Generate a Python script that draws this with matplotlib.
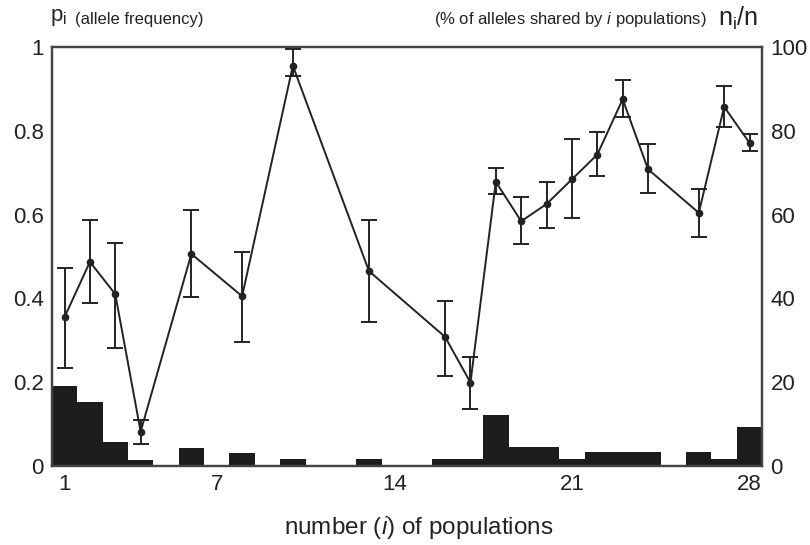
import matplotlib.pyplot as plt
import numpy as np

plt.rcParams['font.family'] = ['Liberation Sans', 'DejaVu Sans']
plt.rcParams['mathtext.fontset'] = 'custom'
plt.rcParams['mathtext.rm'] = 'Liberation Sans'
plt.rcParams['mathtext.it'] = 'Liberation Sans:italic'

# share of alleles (%) found in exactly i populations, i = 1..28
n_pops = np.arange(1, 29)
shared_pct = [19.0, 15.3, 5.8, 1.5, 0, 4.4, 0, 3.0, 0, 1.6, 0, 0, 1.6, 0,
              0, 1.6, 1.6, 12.2, 4.5, 4.5, 1.6, 3.3, 3.3, 3.3, 0, 3.3, 1.6, 9.4]

# mean allele frequency with its range
freq_i = [1, 2, 3, 4, 6, 8, 10, 13, 16, 17, 18, 19, 20, 21, 22, 23, 24, 26, 27, 28]
freq = [0.355, 0.487, 0.41, 0.082, 0.506, 0.405, 0.955, 0.465, 0.308, 0.199,
        0.678, 0.584, 0.625, 0.684, 0.743, 0.875, 0.708, 0.604, 0.857, 0.771]
freq_lo = [0.233, 0.388, 0.282, 0.052, 0.404, 0.295, 0.93, 0.344, 0.215, 0.136,
           0.65, 0.529, 0.569, 0.592, 0.692, 0.833, 0.652, 0.547, 0.808, 0.751]
freq_hi = [0.473, 0.587, 0.533, 0.11, 0.61, 0.511, 0.995, 0.587, 0.394, 0.259,
           0.71, 0.642, 0.678, 0.78, 0.797, 0.92, 0.768, 0.661, 0.907, 0.793]

fig = plt.figure(figsize=(8.1, 5.45), dpi=100)
ax1 = fig.add_axes([0.064, 0.145, 0.877, 0.769])
ax2 = ax1.twinx()

# histogram on the right axis, behind the line
ax2.bar(n_pops, shared_pct, width=1.0, color='#1c1c1c', linewidth=0)
ax2.set_ylim(0, 100)
ax2.set_yticks([0, 20, 40, 60, 80, 100])

ax1.set_zorder(ax2.get_zorder() + 1)
ax1.patch.set_visible(False)

f = np.array(freq)
yerr = [f - np.array(freq_lo), np.array(freq_hi) - f]
ax1.errorbar(freq_i, freq, yerr=yerr, color='#222222', lw=1.4, elinewidth=1.4,
             capsize=6, capthick=1.4, marker='o', ms=4.5)

ax1.set_xlim(0.5, 28.5)
ax1.set_ylim(0, 1)
ax1.set_xticks([1, 7, 14, 21, 28])
ax1.set_yticks([0, 0.2, 0.4, 0.6, 0.8, 1])
ax1.set_yticklabels(['0', '0.2', '0.4', '0.6', '0.8', '1'])

for ax in (ax1, ax2):
    ax.tick_params(length=0, labelsize=16, colors='#222222', pad=6)
    for s in ax.spines.values():
        s.set_color('#444444')
        s.set_linewidth(1.6)

ax1.set_xlabel('number ($\\mathit{i}$) of populations', fontsize=17.5,
               color='#222222', va='center')
ax1.xaxis.set_label_coords(0.517, -0.146)

fig.text(0.062, 0.967, '$\\mathregular{p_i}$', fontsize=16, va='center', color='#222222')
fig.text(0.093, 0.965, '(allele frequency)', fontsize=12, va='center', color='#222222')
fig.text(0.872, 0.965, '(% of alleles shared by $\\mathit{i}$ populations)', fontsize=12,
         va='center', ha='right', color='#222222')
fig.text(0.886, 0.967, '$\\mathregular{n_i}$/n', fontsize=18, va='center', color='#222222')

fig.savefig('out.png', dpi=100)
